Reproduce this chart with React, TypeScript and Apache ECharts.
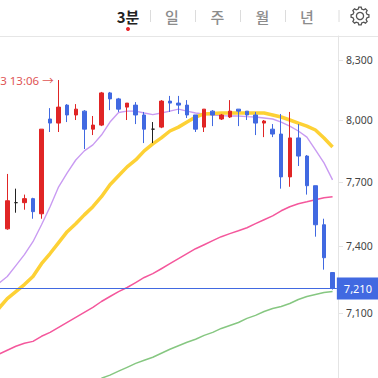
import React, { useEffect, useRef } from "react";
import * as echarts from "echarts";

const tabs = ["3분", "일", "주", "월", "년"];
const yTicks = [7100, 7400, 7700, 8000, 8300];
const lastPrice = 7210;
const highLabel = "3 13:06 →";

// [open, close, low, high]
const candles: (number[] | string)[] = [
  "-",
  [7480, 7611, 7476, 7738], [7602, 7602, 7555, 7668], [7602, 7621, 7569, 7640], [7621, 7560, 7527, 7625],
  [7550, 7955, 7527, 7955], [8005, 7985, 7941, 8059], [7985, 8064, 7941, 8200], [8074, 8025, 7990, 8079],
  [8025, 8054, 8000, 8079], [8044, 7955, 7858, 8049], [7955, 7975, 7926, 8020], [7975, 8135, 7970, 8140],
  [8135, 8105, 8049, 8140], [8105, 8054, 8040, 8110], [8064, 8084, 8000, 8084], [8074, 8025, 7980, 8089],
  [8025, 7955, 7887, 8040], [7955, 7955, 7887, 7990], [7965, 8094, 7960, 8099], [8094, 8084, 8040, 8120],
  [8084, 8074, 8030, 8120], [8074, 8025, 8010, 8099], [8025, 7955, 7941, 8025], [7965, 8054, 7941, 8054],
  [8044, 8025, 7970, 8049], [8005, 8025, 8000, 8030], [8015, 8044, 8010, 8099], [8054, 8044, 7970, 8054],
  [8044, 8025, 8000, 8044], [8025, 7985, 7926, 8040], [7985, 7995, 7916, 8000], [7955, 7931, 7916, 7980],
  [7931, 7724, 7668, 8030], [7724, 7912, 7677, 8040], [7912, 7824, 7776, 7980], [7824, 7682, 7640, 7829],
  [7682, 7499, 7444, 7682], [7499, 7348, 7294, 7527], [7281, 7210, 7205, 7281],
];
const categories = candles.map((_, i) => String(i));

const maPurple = [
  7232, 7263, 7312, 7362, 7421, 7499, 7583, 7677, 7743, 7805, 7849, 7878, 7926, 7990, 8037, 8044, 8044, 8035, 8027, 8035,
  8044, 8054, 8044, 8035, 8030, 8025, 8022, 8020, 8020, 8017, 8015, 8010, 8005, 7990, 7970, 7946, 7916, 7854, 7791, 7710,
];
const maYellow = [
  7121, 7165, 7196, 7227, 7263, 7321, 7367, 7417, 7467, 7504, 7545, 7583, 7630, 7687, 7729, 7772, 7805, 7849, 7883, 7912,
  7946, 7965, 7990, 8015, 8030, 8032, 8035, 8035, 8035, 8035, 8035, 8035, 8025, 8015, 8000, 7985, 7970, 7951, 7912, 7868,
];
const maPink = [
  6923, 6940, 6957, 6970, 6978, 7000, 7017, 7039, 7060, 7082, 7104, 7126, 7152, 7174, 7196, 7214, 7236, 7259, 7276, 7298,
  7321, 7344, 7367, 7389, 7407, 7426, 7444, 7458, 7471, 7485, 7504, 7522, 7540, 7564, 7583, 7597, 7606, 7616, 7625, 7630,
];
const maGreen = [
  null, null, null, null, null, null, null, null, null, null, null, null,
  6821, 6834, 6851, 6867, 6884, 6897, 6910, 6927, 6944, 6959, 6974, 6987, 7004, 7017, 7034, 7047,
  7060, 7078, 7091, 7108, 7121, 7130, 7143, 7161, 7174, 7183, 7192, 7196,
];

const RED = "#e02525";
const BLUE = "#4169e1";
const fmt = (v: number) => Math.round(v).toLocaleString("en-US");
const FONT = "'Noto Sans', 'Noto Sans CJK KR', sans-serif";

function gearPoints(cx: number, cy: number, rIn: number, rOut: number, teeth: number) {
  const pts: number[][] = [];
  for (let i = 0; i < teeth; i++) {
    const a = (i / teeth) * Math.PI * 2 - Math.PI / 2;
    const w = (Math.PI * 2) / teeth;
    [[-0.3, rIn], [-0.17, rOut], [0.17, rOut], [0.3, rIn]].forEach(([d, r]) => {
      pts.push([cx + r * Math.cos(a + d * w), cy + r * Math.sin(a + d * w)]);
    });
  }
  return pts;
}

export default function App() {
  const ref = useRef<HTMLDivElement>(null);
  useEffect(() => {
    const chart = echarts.init(ref.current!, null, { renderer: "svg" });
    const tabX = [128, 172, 217.5, 262.5, 307];
    const sepX = [150.5, 195.5, 240.5, 285.5, 339];
    const line = (data: (number | null)[], color: string, width: number) => ({
      type: "line", data, symbol: "none", smooth: false, silent: true,
      lineStyle: { color, width, join: "round" }, z: 2,
    });
    chart.setOption({
      animation: false,
      backgroundColor: "#fff",
      grid: { left: -5.56, top: 36, width: 342.4, height: 342, outerBoundsMode: "none" },
      xAxis: { type: "category", data: categories, show: false },
      yAxis: {
        type: "log", logBase: 10, position: "right", offset: 1.16, min: 6822, max: 8426, scale: true,
        axisLine: { show: true, lineStyle: { color: "#e4e4e4", width: 1 } },
        axisTick: { show: true, length: 5, customValues: yTicks, lineStyle: { color: "#e4e4e4" } },
        axisLabel: {
          customValues: yTicks, margin: 8, fontSize: 10.5, color: "#444", fontFamily: FONT,
          formatter: (v: number) => fmt(v),
        },
        splitLine: { show: false }, minorTick: { show: false },
      },
      series: [
        line(maPurple, "#c99bf2", 1.4),
        line(maYellow, "#fdd135", 3.5),
        line(maPink, "#f4579c", 1.5),
        line(maGreen, "#86c781", 1.5),
        {
          type: "candlestick", data: candles, barWidth: 4, z: 4,
          itemStyle: { color: RED, color0: BLUE, borderColor: RED, borderColor0: BLUE, borderColorDoji: "#222", borderWidth: 1 },
          markPoint: {
            symbol: "circle", symbolSize: 0, silent: true,
            data: [{ coord: ["7", 8200] }],
            label: { show: true, position: "left", distance: 5, formatter: highLabel, color: "#e05555", fontSize: 11.5, fontFamily: FONT },
          },
          markLine: {
            symbol: "none", silent: true,
            data: [{ yAxis: lastPrice }],
            lineStyle: { color: BLUE, width: 1, type: "solid" },
            label: {
              show: true, position: "end", distance: 0, formatter: fmt(lastPrice),
              color: "#fff", backgroundColor: BLUE, fontSize: 11, fontFamily: FONT,
              width: 40, height: 22, lineHeight: 22, align: "left", padding: [0, 0, 0, 7],
            },
          },
        },
      ],
      graphic: [
        { type: "line", shape: { x1: 0, y1: 36.5, x2: 378, y2: 36.5 }, style: { stroke: "#e6e6e6", lineWidth: 1 } },
        ...tabs.map((t, i) => ({
          type: "text", x: tabX[i], y: 16,
          style: {
            text: t, fill: i === 0 ? "#222" : "#8c8c8c", fontSize: 15, fontWeight: i === 0 ? 700 : 500,
            fontFamily: "'Noto Sans CJK KR', sans-serif", align: "center", verticalAlign: "middle",
          },
        })),
        { type: "circle", shape: { cx: 128, cy: 29, r: 2 }, style: { fill: "#e8252a" } },
        ...sepX.map((x) => ({ type: "line", shape: { x1: x, y1: 10, x2: x, y2: 22 }, style: { stroke: "#dcdcdc", lineWidth: 1 } })),
        { type: "polygon", shape: { points: gearPoints(360, 16, 7.2, 9, 8) }, style: { fill: "none", stroke: "#555", lineWidth: 1.3 } },
        { type: "circle", shape: { cx: 360, cy: 16, r: 3.6 }, style: { fill: "none", stroke: "#555", lineWidth: 1.3 } },
      ],
    });
    return () => chart.dispose();
  }, []);
  return <div ref={ref} style={{ position: "fixed", left: 0, top: 0, width: 378, height: 378 }} />;
}
